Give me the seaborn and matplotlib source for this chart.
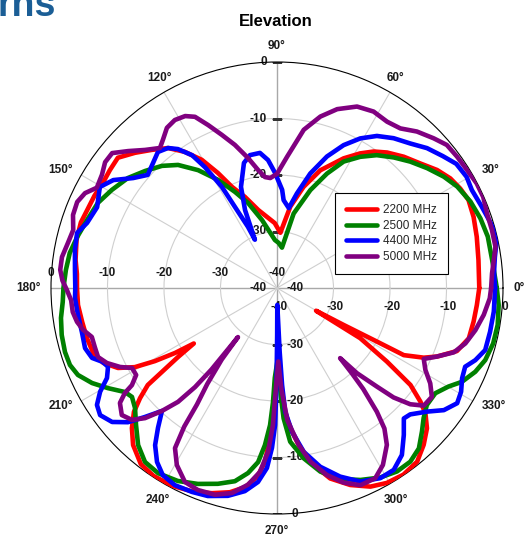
import numpy as np
import pandas as pd
import matplotlib
matplotlib.use("Agg")
import matplotlib.pyplot as plt
from matplotlib.lines import Line2D
import seaborn as sns

# ---------------- data (angle in degrees, gain in dB) ----------------
freqs = ["2200 MHz", "2500 MHz", "4400 MHz", "5000 MHz"]
colors = ["#ff0000", "#008000", "#0000ff", "#800080"]

ang_2200 = [0, 7.9, 14.4, 19.9, 24.7, 28.5, 32.3, 36.4, 41.0, 46.0,
            50.9, 54.7, 58.3, 62.8, 69.8, 75.3, 80.7, 86.5, 90, 92,
            103.5, 109.4, 114, 117.2, 120.4, 124.1, 127.9, 132.2, 136.4, 140.7,
            144.8, 148.9, 153.2, 157.4, 161.5, 166.4, 172, 176, 180, 184.9,
            189.9, 194.7, 199.5, 203.3, 206.7, 209.1, 210.9, 212.5, 213.7, 214.9,
            216.1, 216.9, 218.8, 220.9, 224, 227.5, 232.3, 236.7, 242.2, 247.3,
            252.4, 257, 260.9, 264, 266, 267.3, 268.2, 268.8, 270.5, 272,
            273.2, 275.4, 278.3, 281.7, 285.6, 290.4, 295.2, 299.4, 304.1, 308.9,
            313.1, 316.9, 319.8, 321.6, 324, 326.2, 328.9, 329.8, 331, 331.8,
            332.1, 334.6, 336.8, 340.7, 345.3, 350.3, 355.1, 360]
db_2200 = [-4.2, -4.0, -3.5, -3.0, -2.7, -3.1, -3.7, -4.8, -6.4, -7.7,
           -9.1, -10.4, -12.0, -14.2, -17.8, -21.5, -25.4, -30.2, -29.2, -28.5,
           -25.8, -22.9, -20.4, -17.1, -13.7, -10.9, -8.6, -7.0, -5.3, -3.6,
           -3.8, -4.0, -3.8, -3.7, -3.4, -3.5, -4.0, -4.5, -4.6, -4.65,
           -5.0, -5.2, -5.5, -6.5, -8.5, -11.2, -14.8, -18.6, -22.3, -18.6,
           -14.8, -11.4, -8.9, -6.5, -4.3, -2.3, -0.6, -0.2, -0.4, -1.0,
           -1.9, -2.9, -4.3, -6.4, -9.1, -13.4, -18.0, -22.8, -27.0, -22.8,
           -18.7, -15.05, -11.3, -8.0, -5.0, -2.8, -1.15, -0.4, -0.1, -0.5,
           -2.0, -3.65, -5.6, -7.6, -10.8, -16.6, -22.8, -32.0, -26.5, -19.9,
           -14.6, -11.25, -9.2, -6.25, -4.9, -4.7, -4.5, -4.2]

ang_2500 = [0, 7.5, 13.7, 18.9, 24.1, 29.4, 33.7, 38.6, 43.5, 48.2,
            53.1, 57.6, 62.2, 66.4, 71.2, 77.4, 83.0, 88, 92.5, 102.4,
            108.8, 113.6, 118.6, 123.8, 128.8, 133.3, 138.4, 143.6, 149.3, 154.6,
            160.3, 165.7, 170.4, 175.1, 180, 183.7, 187.9, 192.3, 196.8, 200.4,
            203.6, 207.2, 210.6, 214.4, 216.9, 220.2, 224.2, 228.5, 232.8, 237.3,
            242.8, 248, 253.2, 257.7, 261.1, 263.8, 265.6, 267.1, 268, 268.6,
            270.5, 272, 272.9, 274.9, 278.9, 283.3, 288.3, 293.5, 298.6, 303.2,
            307.5, 311.5, 315.3, 318.4, 322, 326.4, 330.1, 333.1, 337.1, 340.9,
            345.6, 350.5, 355.6, 360]
db_2500 = [-1.1, -1.6, -1.6, -1.95, -2.5, -3.4, -4.5, -6.0, -7.5, -9.0,
           -10.6, -12.5, -14.7, -17.9, -21.7, -26.5, -32.8, -32.0, -31.5, -27.7,
           -24.1, -21.45, -18.2, -14.9, -12.05, -10.3, -8.8, -7.2, -6.0, -4.9,
           -4.3, -3.5, -2.8, -2.5, -2.2, -2.0, -1.4, -1.0, -0.8, -0.9,
           -1.55, -3.2, -5.2, -7.4, -7.9, -7.1, -5.2, -2.9, -1.35, -1.05,
           -1.6, -2.6, -3.8, -5.0, -6.85, -9.0, -12.1, -15.7, -19.8, -24.1,
           -27.3, -21.0, -16.9, -12.7, -9.5, -6.6, -4.4, -2.95, -1.8, -1.2,
           -1.25, -2.1, -3.9, -5.3, -6.35, -6.35, -5.0, -3.3, -1.9, -1.0,
           -0.5, -0.4, -0.65, -1.1]

ang_4400 = [0, 4, 8.1, 12.3, 15.8, 21.6, 26.7, 30.4, 34.7, 38.5,
            43.0, 47.3, 52.1, 56.7, 60.9, 65.0, 69.2, 73.8, 78.1, 81.6,
            85.7, 87, 91, 94, 97.2, 101.5, 104.8, 109.6, 112.3, 114.6,
            115.4, 117.4, 118.6, 120.8, 122.6, 125.5, 127.9, 131.2, 134.8, 138.8,
            142.6, 146.6, 150.3, 155.8, 161.1, 164.6, 169.3, 174.9, 180, 182.8,
            187.7, 192.7, 197.4, 200.7, 203, 205, 207.9, 210.4, 213, 215.7,
            219.1, 222, 224.3, 226.9, 229.6, 232.2, 235.4, 238.6, 242.6, 247.4,
            251.6, 256.7, 261, 264.4, 266.8, 268.2, 269.2, 269.7, 270.2, 271,
            272.4, 273, 273.8, 276, 279.3, 283.6, 288.5, 293.3, 298.5, 302.7,
            306.8, 310.8, 314.2, 316.5, 320.5, 323.8, 327.4, 330.6, 334, 337.3,
            340, 343.4, 348.4, 353.8, 360]
db_4400 = [-1.4, -1.5, -1.05, -0.2, -0.3, -1.0, -1.4, -1.1, -1.4, -2.5,
           -3.7, -5.2, -6.4, -7.8, -9.7, -12.1, -15.1, -18.9, -22.9, -25.7,
           -24.4, -22.6, -19.6, -17.3, -15.9, -16.0, -17.1, -21.0, -25.1, -30.6,
           -28.0, -23.9, -19.6, -15.1, -12.1, -9.8, -8.6, -8.0, -8.85, -9.6,
           -7.96, -5.3, -3.9, -5.1, -4.46, -3.3, -3.6, -4.1, -4.3, -4.2,
           -4.45, -4.6, -4.4, -5.0, -6.5, -7.0, -5.95, -3.7, -2.0, -1.45,
           -2.4, -4.5, -7.3, -10.2, -7.5, -4.8, -2.6, -1.2, -0.7, -0.9,
           -1.2, -2.2, -3.6, -5.5, -8.1, -11.7, -15.75, -22.8, -31.7, -37.0,
           -28.7, -22.8, -18.05, -14.4, -10.6, -7.45, -4.8, -2.7, -1.7, -1.75,
           -3.1, -5.65, -7.8, -7.5, -5.6, -3.4, -2.15, -2.6, -3.55, -3.9,
           -2.65, -1.55, -1.5, -1.4, -1.4]

ang_5000 = [0, 3.9, 7.4, 10.7, 15.1, 19.6, 23.8, 27.6, 31.8, 36.1,
            40.1, 43.7, 48.2, 52.3, 56.5, 61.3, 66.2, 71.4, 75.8, 80.4,
            85.6, 90, 93.5, 96.2, 99.1, 102.6, 106.4, 109.8, 112.9, 115.6,
            118.1, 121.3, 124.5, 127.6, 129.9, 133.7, 137.4, 140.7, 143.8, 147.1,
            150.9, 153.7, 156.7, 160.3, 164.1, 167.8, 171.8, 175.2, 178, 180.5,
            183.4, 186.7, 189.6, 192.2, 194.8, 198, 201.1, 203.8, 206.7, 208.9,
            211.7, 213.8, 214.6, 216.2, 219.3, 222.3, 224.6, 226.9, 229, 230.4,
            231.2, 231.5, 232.3, 234, 235.5, 236.2, 237.5, 240.5, 244.6, 248.6,
            253.3, 257.6, 261.6, 264.7, 266.9, 268.3, 269, 271, 272.5, 274.5,
            277.9, 280.9, 285, 288.9, 292.9, 297.3, 300.9, 305, 307.4, 308.9,
            310.5, 311.3, 312, 313.2, 315.4, 316.8, 318.9, 321.3, 324.9, 328.1,
            331.1, 334.2, 336.8, 340, 343.6, 348, 352.6, 357.2, 360]
db_5000 = [-2.1, -1.85, -1.3, -0.65, -0.6, -0.55, -0.1, -0.1, -0.4, -0.55,
           -0.7, -1.65, -2.85, -4.3, -4.7, -4.4, -4.9, -6.6, -8.7, -11.6,
           -16.7, -19.8, -20.5, -20.25, -18.85, -16.4, -13.6, -11.2, -8.7, -6.4,
           -5.5, -5.2, -5.6, -6.9, -7.7, -6.2, -4.2, -2.3, -2.3, -3.1,
           -3.5, -2.1, -1.5, -1.65, -2.5, -2.15, -1.55, -1.5, -2.0, -2.8,
           -3.5, -3.6, -4.1, -4.9, -6.1, -6.1, -6.05, -7.1, -8.9, -10.7,
           -10.7, -9.1, -7.3, -5.55, -4.5, -5.3, -7.2, -10.2, -13.3, -17.25,
           -21.5, -28.9, -24.0, -19.0, -15.0, -10.5, -6.4, -4.0, -2.0, -1.6,
           -1.8, -2.85, -4.8, -7.3, -11.0, -15.75, -20.5, -27.0, -22.0, -16.5,
           -11.95, -8.7, -5.7, -3.6, -2.1, -2.1, -3.5, -6.1, -8.7, -11.85,
           -16.5, -20.0, -23.3, -19.3, -15.1, -11.7, -8.7, -6.7, -6.5, -8.05,
           -10.0, -11.15, -9.2, -6.7, -5.25, -4.1, -3.1, -2.3, -2.1]

theta_ticks = list(range(0, 360, 30))
theta_labels = [f"{t}\u00b0" for t in theta_ticks]
r_ticks = [0, -10, -20, -30, -40]
r_labels = ["0", "-10", "-20", "-30", "-40"]

# ---------------- build long table ----------------
series = [(ang_2200, db_2200), (ang_2500, db_2500), (ang_4400, db_4400), (ang_5000, db_5000)]
frames = []
for f, (a, d) in zip(freqs, series):
    frames.append(pd.DataFrame({"theta": np.deg2rad(a), "db": d, "freq": f}))
df = pd.concat(frames, ignore_index=True)

# ---------------- style ----------------
sns.set_theme(style="white")
plt.rcParams["font.family"] = ["Liberation Sans", "DejaVu Sans"]

W, H = 525, 537
fig = plt.figure(figsize=(W / 100, H / 100), dpi=100)
cx, cy, R = 277, 288, 226
ax = fig.add_axes([(cx - R) / W, (H - cy - R) / H, 2 * R / W, 2 * R / H], projection="polar")
ax.set_theta_zero_location("E")
ax.set_theta_direction(1)

sns.lineplot(data=df, x="theta", y="db", hue="freq", palette=dict(zip(freqs, colors)),
             sort=False, estimator=None, linewidth=3.3, ax=ax, legend=False, zorder=3)
ax.set_xlabel("")
ax.set_ylabel("")
ax.set_ylim(-40, 0)

# grid
ax.set_rticks([-30, -20, -10])
ax.set_yticklabels([])
ax.set_thetagrids(theta_ticks, [""] * len(theta_ticks))
ax.grid(True, color="#cfcfcf", linewidth=0.8, zorder=0)
for i, gl in enumerate(ax.xaxis.get_gridlines()):
    if theta_ticks[i] % 90 == 0:
        gl.set_color("#a8a8a8")
        gl.set_linewidth(1.0)
ax.spines["polar"].set_color("black")
ax.spines["polar"].set_linewidth(0.8)
ax.tick_params(axis="x", direction="out", length=5, width=0.8, color="black")

# angular labels, anchored by their edge nearest the circle
for t, s in zip(theta_ticks, theta_labels):
    a = np.deg2rad(t)
    c, sn = np.cos(a), np.sin(a)
    ha = "left" if c > 0.6 else ("right" if c < -0.6 else "center")
    va = "bottom" if sn > 0.6 else ("top" if sn < -0.6 else "center")
    d = 10 if sn > -0.6 else 11.5
    ax.annotate(s, xy=(a, 0), xytext=(d * c, d * sn), textcoords="offset pixels",
                ha=ha, va=va, fontsize=8.5, fontweight="bold", color="#1a1a1a",
                annotation_clip=False)

# radial labels on the four axes
lab_kw = dict(textcoords="offset pixels", fontsize=8.5, fontweight="bold",
              color="#1a1a1a", zorder=2, annotation_clip=False)
for r, s in zip(r_ticks, r_labels):
    ax.annotate(s, xy=(np.pi, r), xytext=(0, 15), ha="center", va="center", **lab_kw)
    ax.annotate(s, xy=(0, r), xytext=(2, -19), ha="center", va="center", **lab_kw)
    ax.annotate(s, xy=(np.pi / 2, r), xytext=(-10, 0), ha="right", va="center", **lab_kw)
    ax.annotate(s, xy=(3 * np.pi / 2, r), xytext=(18, 0), ha="center", va="center", **lab_kw)
tick_r = r_ticks[:-1]
ax.plot([np.pi / 2] * len(tick_r), tick_r, ls="none", marker="_", ms=7, mew=1, color="#333333", zorder=2)
ax.plot([3 * np.pi / 2] * len(tick_r), tick_r, ls="none", marker="_", ms=7, mew=1, color="#333333", zorder=2)

# legend
handles = [Line2D([], [], color=c, linewidth=3.3) for c in colors]
leg = fig.legend(handles, freqs, loc="upper left", bbox_to_anchor=(335 / W, 1 - 193 / H),
                 frameon=True, fancybox=False, edgecolor="black", framealpha=1,
                 fontsize=8.5, handlelength=2.6, handletextpad=0.5, labelspacing=0.3,
                 borderpad=0.95, borderaxespad=0)
leg.get_frame().set_linewidth(0.8)
leg.set_zorder(10)

# titles
fig.text(276 / W, 1 - 21 / H, "Elevation", ha="center", va="center",
         fontsize=12, fontweight="bold", color="black")
fig.text(-3 / W, 1 - 16 / H, "rns", ha="left", va="baseline",
         fontsize=27, fontweight="bold", color="#1b5e96")

fig.savefig("out.png", dpi=100)
